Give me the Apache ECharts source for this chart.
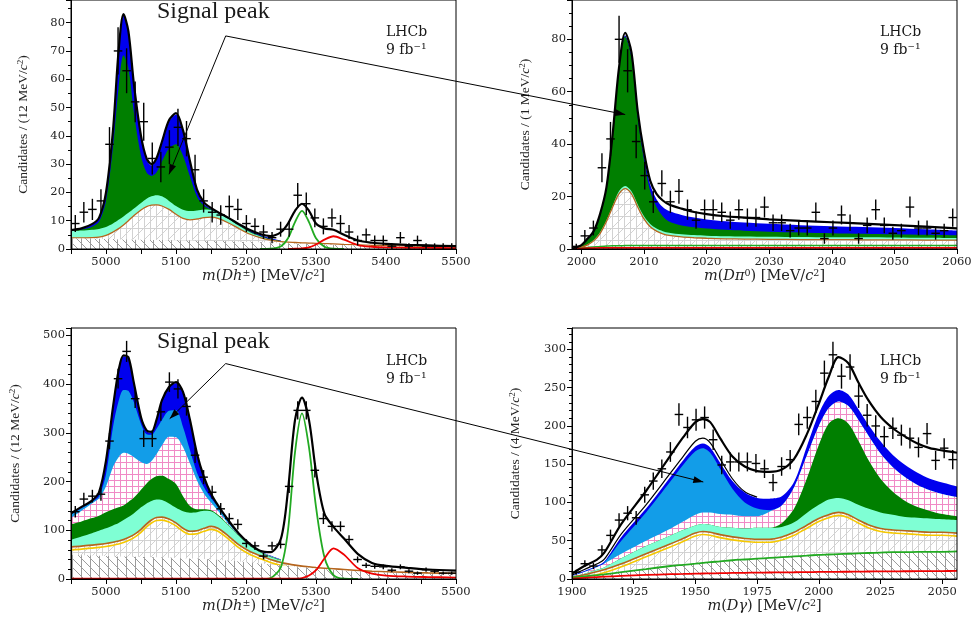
<!DOCTYPE html>
<html lang="en">
<head>
  <meta charset="utf-8">
  <title>Dh, D pi0 and D gamma mass fits</title>
  <style>
    html, body { margin: 0; padding: 0; background: #fff; }
    #container { width: 976px; height: 623px; }
  </style>
</head>
<body>
  <div id="container"></div>
  <script src="https://cdn.jsdelivr.net/npm/echarts@6/dist/echarts.min.js"></script>
  <script>
    // binning of the data points: centre = lo + (i + 0.5) * width
    const dhLo = 4950, dhBinW = 550 / 45;
    const dpiLo = 1998.5, dpiBinW = 61.5 / 45;
    const dgLo = 1900, dgBinW = 156 / 45;

    // candidates per bin
    const dh1Counts = [9, 13, 14, 17, 37, 70, 63, 52, 45, 32, 29, 36, 43, 39, 28, 17, 13, 12, 15, 14, 9, 8, 6, 4, 7, 7, 19, 16, 11, 8, 11, 9, 6, 3, 5, 3, 3, 1, 4, 1, 3, 1, 1, 1, 1];
    const dpiCounts = [1, 5, 8, 31, 42, 80, 68, 41, 28, 18, 25, 18, 22, 15, 11, 15, 15, 14, 11, 15, 12, 12, 16, 10, 10, 7, 8, 8, 14, 4, 8, 13, 10, 4, 9, 15, 9, 6, 7, 16, 8, 8, 6, 7, 12];
    const dh3Counts = [138, 164, 170, 174, 283, 411, 467, 370, 288, 288, 343, 404, 390, 354, 254, 209, 178, 144, 124, 112, 73, 68, 47, 68, 71, 190, 346, 346, 223, 124, 108, 108, 81, 40, 28, 26, 25, 18, 25, 16, 12, 19, 16, 12, 12];
    const dgCounts = [9, 20, 17, 38, 57, 77, 86, 80, 110, 128, 144, 166, 215, 198, 208, 211, 182, 149, 153, 153, 153, 151, 144, 126, 147, 156, 202, 211, 232, 269, 293, 265, 277, 239, 214, 200, 186, 197, 188, 184, 172, 190, 155, 171, 156];

    // fit curves, m(Dh) panels (upper edge of each coloured band)
    const xsDh = [4950, 4965, 4980, 4990, 5000, 5010, 5018, 5025, 5032, 5040, 5050, 5058, 5065, 5072, 5080, 5090, 5100, 5110, 5120, 5130, 5140, 5150, 5160, 5175, 5190, 5205, 5220, 5235, 5250, 5260, 5270, 5280, 5290, 5300, 5312, 5325, 5340, 5360, 5380, 5400, 5430, 5460, 5500];

    const dh1Total = [6.7, 7.3, 8.8, 11, 20, 42, 70, 83, 77, 58, 40, 32, 30, 32, 38, 45.5, 48, 42, 31, 21, 16.5, 14.5, 13, 11, 8.8, 6.8, 5.3, 4.6, 6, 9, 13.5, 16, 13.5, 9, 7.3, 6.8, 5, 3, 2.2, 1.8, 1.45, 1.25, 1.0];
    const dh1Blue = [6.6, 7.2, 8.6, 10.7, 19.7, 41.5, 69.5, 82.5, 76.5, 57.5, 39.5, 31.5, 29.5, 31.5, 37.5, 45, 47.5, 41.5, 30.5, 20.5, 16, 14.2, 12.9, 10.8, 8.6, 6.6, 5, 3.8, 3];
    const dh1Sig = [6.5, 6.9, 7.9, 9.6, 17, 36, 57, 68.5, 64, 48, 33, 27, 25.8, 27, 31, 35.5, 37, 33, 25.5, 18.5, 15.3, 14, 12.9, 10.8, 8.4, 6.3, 4.7, 3.5, 2.8];
    const dh1Aqua = [6.3, 6.5, 6.8, 7.1, 7.8, 9, 10.3, 11.5, 12.8, 14.3, 16.3, 17.8, 18.6, 19, 18.6, 17, 15.2, 13.9, 13.4, 13.6, 14, 13.8, 12.8, 10.6, 8.2, 6, 4.5, 3.3, 2.7];
    const dh1Part = [3.9, 3.9, 4.0, 4.2, 4.8, 6.0, 7.2, 8.5, 10, 11.8, 13.8, 15, 15.5, 15.6, 15.2, 14, 12.3, 10.8, 10.3, 10.6, 11.1, 11.3, 10.8, 9.2, 7.2, 5.3, 4.0, 3.1, 2.6, 2.4, 2.3, 2.2, 2.1, 2.0, 1.9, 1.8, 1.6, 1.45, 1.3, 1.2, 1.0, 0.9, 0.7];
    const dh1Comb = [3.7, 3.7, 3.6, 3.6, 3.5, 3.5, 3.4, 3.4, 3.4, 3.3, 3.3, 3.3, 3.2, 3.2, 3.2, 3.1, 3.1, 3.0, 3.0, 2.9, 2.9, 2.8, 2.8, 2.7, 2.6, 2.5, 2.4, 2.2, 2.0, 1.9, 1.8, 1.8, 1.7, 1.6, 1.5, 1.4, 1.3, 1.2, 1.1, 1.0, 0.9, 0.8, 0.6];
    const dh1BPi = [null, null, null, null, null, null, null, null, null, null, null, null, null, null, null, null, null, null, null, null, null, null, null, null, null, null, 0, 0.1, 1.0, 3.8, 9.5, 13.5, 9.5, 3.8, 0.8, 0.1, 0, null, null, null, null, null, null];
    const dh1Red = [null, null, null, null, null, null, null, null, null, null, null, null, null, null, null, null, null, null, null, null, null, null, null, null, null, null, null, null, null, 0, 0.1, 0.2, 0.6, 1.6, 3.3, 4.5, 3.3, 1.4, 0.8, 0.55, 0.45, 0.38, 0.3];

    const dh3Total = [135, 148, 161, 178, 243, 353, 428, 459, 455, 401, 332, 305, 302, 326, 367, 394, 404, 384, 326, 257, 209, 175, 151, 120, 93, 72.5, 58, 55, 83, 182, 326, 372, 326, 220, 134, 107, 83, 51, 33, 27, 23, 19.5, 17];
    const dh3Blue = [133, 146, 159, 176, 241, 351, 426, 457, 453, 399, 330, 303, 300, 324, 365, 392, 402, 382, 324, 255, 207, 173, 149, 118, 91, 71, 57, 48, 40];
    const dh3LBlue = [132, 145, 158, 170, 215, 312, 365, 388, 386, 362, 318, 297, 296, 308, 326, 345, 346, 312, 264, 218, 188, 166, 148, 117, 90.5, 70.5, 57, 47, 39.5];
    const dh3Pink = [125, 140, 155, 165, 190, 230, 250, 259, 257, 250, 240, 236, 242, 256, 274, 292, 291, 271, 237, 202, 175, 157, 140, 113, 90, 70, 56.5, 46.5, 39];
    const dh3Sig = [112, 118, 125, 130, 137, 143, 147, 151, 158, 167, 183, 196, 205, 211, 212, 205, 195, 170, 150, 143, 143, 141, 132, 111, 89, 69, 56, 46, 39];
    const dh3Aqua = [80, 87, 94, 99, 104, 110, 115, 121, 127, 135, 147, 155, 160, 163, 162, 155, 146, 139, 136, 137, 140, 139, 130, 110, 88, 68, 55, 45, 38];
    const dh3Part = [66, 67.5, 69.5, 71, 73, 75.5, 78, 81, 85, 91, 102, 113, 121, 126, 127, 123, 115, 104, 98, 99, 104, 108, 104, 88, 70, 57, 48, 40, 34, 31, 28.5, 26.5, 25, 23.5, 22, 21, 19.5, 17.5, 16, 15, 13.5, 12.5, 11.5];
    const dh3Comb = [49, 48.5, 48, 47.5, 47, 46.5, 46, 46, 45.5, 45.5, 45, 45, 44.5, 44.5, 44, 43.5, 43, 42.5, 42, 41.5, 41, 40, 39, 37.5, 36, 34, 32, 30, 28, 26.5, 25, 23.5, 22.5, 21, 20, 18.5, 17, 15.5, 14, 13, 11.5, 10.5, 9.5];
    const dh3BPi = [null, null, null, null, null, null, null, null, null, null, null, null, null, null, null, null, null, null, null, null, null, null, null, null, null, null, 0, 2, 25, 100, 260, 340, 270, 148, 45, 8, 0.5, 0, null, null, null, null, null];
    const dh3Red = [0.8, 0.8, 0.8, 0.8, 0.8, 0.8, 0.8, 0.8, 0.8, 0.8, 0.8, 0.8, 0.8, 0.8, 0.8, 0.8, 0.8, 0.8, 0.8, 0.8, 0.8, 0.8, 0.8, 0.8, 0.8, 0.8, 0.8, 0.8, 0.8, 0.8, 0.8, 2, 7, 18, 42, 63, 50, 22, 11, 7, 5, 4, 3];

    // fit curves, m(D pi0) panel
    const xsDpi = [1998.5, 2000, 2001, 2002, 2003, 2004, 2005, 2006, 2007, 2008, 2009, 2010, 2011, 2012, 2013, 2014, 2016, 2018, 2020, 2023, 2026, 2030, 2035, 2040, 2045, 2050, 2055, 2060];
    const dpiTotal = [0.2, 1.5, 4, 7, 13.5, 23.5, 44, 69, 82.5, 75, 52.5, 37, 26, 21, 18.5, 17, 15.4, 14.1, 13.3, 12.5, 12, 11.3, 10.7, 10.2, 9.7, 9.1, 8.5, 7.9];
    const dpiBlue = [0.2, 1.4, 3.8, 6.8, 13, 23, 43, 68, 81.5, 74, 51.5, 36, 24.5, 19, 16, 14.5, 13, 12, 11.3, 10.6, 10.1, 9.6, 9.1, 8.7, 8.4, 8, 7.5, 7];
    const dpiSig = [0.2, 1.3, 3.5, 6.5, 12.5, 22.5, 42.5, 67.5, 81, 73, 50, 34, 22, 16, 12.5, 10.5, 9, 8.3, 7.8, 7.3, 7, 6.6, 6.3, 6, 5.8, 5.6, 5.4, 5.2];
    const dpiAqua = [0.15, 0.8, 1.8, 3.5, 6.5, 11, 16.5, 22, 24, 22, 17, 12.5, 9.5, 7.8, 6.8, 6.2, 5.6, 5.3, 5.1, 4.9, 4.8, 4.7, 4.6, 4.5, 4.5, 4.4, 4.3, 4.2];
    const dpiPart = [0.1, 0.7, 1.6, 3.2, 6, 10.5, 16, 21, 23, 21, 16, 11.5, 8.5, 6.8, 5.8, 5.2, 4.6, 4.3, 4.1, 3.9, 3.8, 3.7, 3.6, 3.6, 3.5, 3.5, 3.4, 3.4];
    const dpiComb = [0.1, 0.3, 0.6, 0.8, 1.0, 1.1, 1.2, 1.2, 1.3, 1.3, 1.3, 1.3, 1.3, 1.3, 1.3, 1.3, 1.3, 1.3, 1.3, 1.3, 1.3, 1.3, 1.3, 1.3, 1.3, 1.3, 1.3, 1.3];
    const dpiRed = [0.05, 0.2, 0.3, 0.35, 0.4, 0.4, 0.4, 0.4, 0.45, 0.45, 0.45, 0.45, 0.45, 0.45, 0.45, 0.45, 0.45, 0.45, 0.45, 0.45, 0.45, 0.45, 0.45, 0.45, 0.45, 0.45, 0.45, 0.45];

    // fit curves, m(D gamma) panel
    const xsDg = [1900, 1905, 1910, 1913, 1920, 1930, 1940, 1945, 1950, 1953, 1956, 1960, 1965, 1970, 1975, 1980, 1985, 1990, 1995, 2000, 2004, 2008, 2012, 2016, 2020, 2025, 2030, 2035, 2040, 2045, 2050, 2056];
    const dgTotal = [7, 17, 25, 34, 72, 115, 162, 185, 205, 209, 205, 184, 160, 147, 141, 140, 143, 157, 188, 229, 264, 290, 282, 257, 234, 212, 197, 186, 177, 171, 168, 165];
    const dgThin = [5, 12.5, 19.5, 25.5, 59, 97, 139, 160, 180, 184, 178, 157, 131, 114, 107];
    const dgBlue = [4.5, 10.5, 17, 22.5, 55, 92, 134, 155, 173, 177, 172, 152, 128, 113, 106, 105, 108, 127, 172, 216, 239, 247, 241, 222, 202, 180, 162, 149, 139, 131, 126, 121];
    const dgLBlue = [4, 9.5, 16, 21, 50, 87, 128, 149, 167, 171, 165, 144, 118, 100, 92, 90, 96, 120, 160, 200, 223, 232, 226, 208, 188, 164, 146, 133, 123, 116, 111, 107];
    const dgPink = [3.5, 9, 15.5, 20, 33, 50, 66, 75, 84, 87, 87, 85, 84, 82, 82, 88, 96, 120, 160, 200, 223, 232, 226, 208, 188, 164, 146, 133, 123, 116, 111, 107];
    const dgDst = [3, 7, 12, 15, 27, 43, 57, 64, 70, 72, 71, 68, 67, 66, 67, 67, 73, 92, 130, 175, 203, 210, 203, 181, 156, 131, 114, 102, 94, 89, 85, 82];
    const dgAqua = [3, 7, 12, 15, 27, 43, 57, 64, 70, 72, 71, 68, 67, 66, 67, 67, 68, 74, 86, 97, 104, 106, 103, 97, 92, 87, 84, 81, 80, 79, 78, 77];
    const dgPart = [2.5, 5.5, 9.5, 12, 20, 33, 46, 53, 60, 62, 61, 58, 55, 53, 52, 52, 55, 61, 70, 79, 84, 87, 84, 77, 71, 66, 64, 63, 62, 61, 61, 60];
    const dgComb = [2, 3.5, 5, 6, 9, 13, 17, 18.5, 20, 21, 22, 23, 24.5, 25.5, 26.5, 27.5, 28.5, 29.5, 30.5, 31.5, 32, 32.5, 33, 33.5, 34, 34.5, 35, 35, 35.5, 35.5, 35.5, 36];
    const dgRed = [0.5, 1.5, 2.5, 3, 4, 5.3, 6.3, 6.6, 7, 7.2, 7.3, 7.6, 7.9, 8.1, 8.3, 8.5, 8.7, 8.8, 9, 9.2, 9.3, 9.4, 9.5, 9.6, 9.8, 9.9, 10, 10.1, 10.2, 10.3, 10.4, 10.5];

    // where the "Signal peak" arrows start and end (data coordinates)
    const noteTop = { apex: [5171, 75.3], tipA: [5090, 26.4], tipB: [2007.0, 51.3] };
    const noteBottom = { apex: [5171, 442], tipA: [5091, 329], tipB: [1953.2, 126.8] };

    // hatch fills
    function hatch(size, draw) {
      const c = document.createElement('canvas');
      c.width = size; c.height = size;
      const g = c.getContext('2d');
      g.fillStyle = '#fff';
      g.fillRect(0, 0, size, size);
      draw(g, size);
      return { image: c, repeat: 'repeat' };
    }
    const combFill = hatch(9, function (g, s) {
      g.strokeStyle = '#9c9c9c'; g.lineWidth = 1;
      g.beginPath();
      g.moveTo(0.5, 0); g.lineTo(0.5, s);
      g.moveTo(-1, -1); g.lineTo(s + 1, s + 1);
      g.stroke();
    });
    const partFill = hatch(12, function (g, s) {
      g.strokeStyle = '#d2d2d2'; g.lineWidth = 1;
      g.beginPath();
      g.moveTo(0.5, 0); g.lineTo(0.5, s);
      g.moveTo(6.5, 0); g.lineTo(6.5, s);
      g.moveTo(0, 0.5); g.lineTo(s, 0.5);
      g.moveTo(-1, s + 1); g.lineTo(s + 1, -1);
      g.stroke();
    });
    const pinkFill = hatch(6, function (g, s) {
      g.strokeStyle = '#f08ac6'; g.lineWidth = 1;
      g.beginPath();
      g.moveTo(0.5, 0); g.lineTo(0.5, s);
      g.moveTo(0, 0.5); g.lineTo(s, 0.5);
      g.stroke();
    });

    const BLUE = '#0000ee', LBLUE = '#129de8', GREEN = '#007f00', AQUA = '#7fffd4';
    const BROWN = '#b5651d', YELLOW = '#f5c800', LGREEN = '#22aa22', RED = '#ee0000';

    function pairs(xs, ys) {
      return ys.map(function (y, i) { return [xs[i], y === null ? '-' : y]; });
    }
    function band(g, xs, ys, fill, z, line) {
      return {
        type: 'line', xAxisIndex: g, yAxisIndex: g, data: pairs(xs, ys), z: z,
        smooth: 0.3, symbol: 'none', silent: true,
        lineStyle: line || { width: 0, opacity: 0 },
        areaStyle: { color: fill, opacity: 1 }
      };
    }
    function curve(g, xs, ys, style, z) {
      return {
        type: 'line', xAxisIndex: g, yAxisIndex: g, data: pairs(xs, ys), z: z,
        smooth: 0.3, symbol: 'none', silent: true, lineStyle: style
      };
    }
    function points(g, lo, w, counts) {
      return {
        type: 'custom', xAxisIndex: g, yAxisIndex: g, z: 30, silent: true,
        data: counts.map(function (n, i) { return [lo + (i + 0.5) * w, n]; }),
        renderItem: function (params, api) {
          const x = api.value(0), n = api.value(1), e = Math.sqrt(n);
          const a = api.coord([x - w / 2, n]), b = api.coord([x + w / 2, n]);
          const t = api.coord([x, n + e]), u = api.coord([x, n - e]);
          const st = { stroke: '#000', lineWidth: 1.4 };
          return {
            type: 'group', children: [
              { type: 'line', shape: { x1: a[0], y1: a[1], x2: b[0], y2: b[1] }, style: st },
              { type: 'line', shape: { x1: t[0], y1: t[1], x2: u[0], y2: u[1] }, style: st }
            ]
          };
        }
      };
    }

    const totalStyle = { color: '#000', width: 2.2 };
    const brownOnYellow = { color: BROWN, width: 1.6, shadowColor: YELLOW, shadowBlur: 0, shadowOffsetY: 3 };

    const series = [
      // m(Dh), top
      band(0, xsDh, dh1Blue, BLUE, 2),
      band(0, xsDh, dh1Sig, GREEN, 3),
      band(0, xsDh, dh1Aqua, AQUA, 4),
      band(0, xsDh, dh1Part, partFill, 5, { color: BROWN, width: 1.3 }),
      band(0, xsDh, dh1Comb, combFill, 6),
      curve(0, xsDh, dh1BPi, { color: LGREEN, width: 1.8 }, 7),
      curve(0, xsDh, dh1Red, { color: RED, width: 1.8 }, 7),
      curve(0, xsDh, dh1Total, totalStyle, 8),
      points(0, dhLo, dhBinW, dh1Counts),
      // m(D pi0)
      band(1, xsDpi, dpiBlue, BLUE, 2),
      band(1, xsDpi, dpiSig, GREEN, 3),
      band(1, xsDpi, dpiAqua, AQUA, 4),
      band(1, xsDpi, dpiPart, partFill, 5, { color: BROWN, width: 1.3 }),
      band(1, xsDpi, dpiComb, combFill, 6, { color: LGREEN, width: 1.5 }),
      curve(1, xsDpi, dpiRed, { color: RED, width: 1.8 }, 7),
      curve(1, xsDpi, dpiTotal, totalStyle, 8),
      points(1, dpiLo, dpiBinW, dpiCounts),
      // m(Dh), bottom
      band(2, xsDh, dh3Blue, BLUE, 2),
      band(2, xsDh, dh3LBlue, LBLUE, 3),
      band(2, xsDh, dh3Pink, pinkFill, 4),
      band(2, xsDh, dh3Sig, GREEN, 5),
      band(2, xsDh, dh3Aqua, AQUA, 6),
      band(2, xsDh, dh3Part, partFill, 7),
      curve(2, xsDh, dh3Part, brownOnYellow, 8),
      band(2, xsDh, dh3Comb, combFill, 9),
      curve(2, xsDh, dh3BPi, { color: LGREEN, width: 1.8 }, 10),
      curve(2, xsDh, dh3Red, { color: RED, width: 1.8 }, 10),
      curve(2, xsDh, dh3Total, totalStyle, 11),
      points(2, dhLo, dhBinW, dh3Counts),
      // m(D gamma)
      curve(3, xsDg, dgThin, { color: '#000', width: 1.2 }, 2),
      band(3, xsDg, dgBlue, BLUE, 3),
      band(3, xsDg, dgLBlue, LBLUE, 4),
      band(3, xsDg, dgPink, pinkFill, 5),
      band(3, xsDg, dgDst, GREEN, 6),
      band(3, xsDg, dgAqua, AQUA, 7),
      band(3, xsDg, dgPart, partFill, 8),
      curve(3, xsDg, dgPart, brownOnYellow, 9),
      band(3, xsDg, dgComb, combFill, 10, { color: LGREEN, width: 1.8 }),
      curve(3, xsDg, dgRed, { color: RED, width: 1.8 }, 11),
      curve(3, xsDg, dgTotal, totalStyle, 12),
      points(3, dgLo, dgBinW, dgCounts)
    ];

    const serif = 'DejaVu Serif';
    const tickLine = { color: '#000', width: 1 };
    const plain = function (v) { return String(v); };
    const labelStyle = { color: '#222', fontFamily: serif, fontSize: 11.5, formatter: plain };
    const xRich = {
      i: { fontFamily: serif, fontStyle: 'italic', fontSize: 14.5, color: '#222' },
      s: { fontFamily: serif, fontSize: 9.5, color: '#222', verticalAlign: 'top' },
      n: { fontFamily: serif, fontSize: 14.5, color: '#222' }
    };
    const yRich = {
      i: { fontFamily: 'Liberation Serif', fontStyle: 'italic', fontSize: 13.5, color: '#222' },
      s: { fontFamily: 'Liberation Serif', fontSize: 9, color: '#222', verticalAlign: 'top' },
      n: { fontFamily: 'Liberation Serif', fontSize: 13.5, color: '#222' }
    };

    function xAxis(g, min, max, name, extra) {
      return Object.assign({
        type: 'value', gridIndex: g, min: min, max: max, z: 20,
        axisLine: { show: true, onZero: false, lineStyle: tickLine },
        axisTick: { show: true, length: 5, lineStyle: tickLine },
        splitLine: { show: false },
        axisLabel: Object.assign({ margin: 7 }, labelStyle),
        name: name, nameLocation: 'middle', nameGap: 19,
        nameTextStyle: { fontFamily: serif, fontSize: 14.5, color: '#222', rich: xRich }
      }, extra);
    }
    function yAxis(g, max, interval, minor, name, gap) {
      return {
        type: 'value', gridIndex: g, min: 0, max: max, interval: interval, z: 20,
        axisLine: { show: true, onZero: false, lineStyle: tickLine },
        axisTick: { show: true, length: 5, lineStyle: tickLine },
        minorTick: { show: true, splitNumber: minor, length: 3, lineStyle: tickLine },
        splitLine: { show: false },
        axisLabel: Object.assign({ margin: 6, showMaxLabel: false }, labelStyle),
        name: name, nameLocation: 'middle', nameRotate: 90, nameGap: gap,
        nameTextStyle: { fontFamily: 'Liberation Serif', fontSize: 13.5, color: '#222', rich: yRich }
      };
    }

    const dhName = '{i|m}{n|(}{i|Dh}{s|±}{n|) [MeV/}{i|c}{s|2}{n|]}';
    const hundreds = function (v) { return v % 100 === 0 ? String(v) : ''; };
    const dpiTicks = [2000, 2010, 2020, 2030, 2040, 2050, 2060];
    const gridBox = { show: true, borderColor: '#000', borderWidth: 1, backgroundColor: 'transparent', z: 20 };

    const option = {
      animation: false,
      grid: [
        Object.assign({ left: 71, right: 520, top: -3, bottom: 374 }, gridBox),
        Object.assign({ left: 572, right: 19, top: -3, bottom: 374 }, gridBox),
        Object.assign({ left: 71, right: 520, top: 328, bottom: 44 }, gridBox),
        Object.assign({ left: 572, right: 19, top: 328, bottom: 44 }, gridBox)
      ],
      xAxis: [
        xAxis(0, 4950, 5500, dhName, { interval: 50, axisLabel: Object.assign({}, labelStyle, { margin: 7, formatter: hundreds }) }),
        xAxis(1, 1998.5, 2060, '{i|m}{n|(}{i|Dπ}{s|0}{n|) [MeV/}{i|c}{s|2}{n|]}', {
          axisTick: { show: true, length: 5, lineStyle: tickLine, customValues: dpiTicks },
          axisLabel: Object.assign({}, labelStyle, { margin: 7, customValues: dpiTicks })
        }),
        xAxis(2, 4950, 5500, dhName, { interval: 50, axisLabel: Object.assign({}, labelStyle, { margin: 7, formatter: hundreds }) }),
        xAxis(3, 1900, 2056, '{i|m}{n|(}{i|Dγ}{n|) [MeV/}{i|c}{s|2}{n|]}', { interval: 25, axisLabel: Object.assign({}, labelStyle, { margin: 7, showMaxLabel: false }) })
      ],
      yAxis: [
        yAxis(0, 88, 10, 2, '{n|Candidates / (12 MeV/}{i|c}{s|2}{n|)}', 41),
        yAxis(1, 95, 20, 4, '{n|Candidates / (1 MeV/}{i|c}{s|2}{n|)}', 40),
        yAxis(2, 515, 100, 5, '{n|Candidates / (12 MeV/}{i|c}{s|2}{n|)}', 49),
        yAxis(3, 328, 50, 5, '{n|Candidates / (4 MeV/}{i|c}{s|2}{n|)}', 50)
      ],
      series: series
    };

    const chart = echarts.init(document.getElementById('container'), null, { renderer: 'canvas' });
    chart.setOption(option);

    // text labels and the "Signal peak" arrows
    function px(g, v) { return chart.convertToPixel({ gridIndex: g }, v); }
    function head(from, to) {
      const dx = to[0] - from[0], dy = to[1] - from[1], L = Math.hypot(dx, dy);
      const ux = dx / L, uy = dy / L, len = 10, hw = 3.5;
      const bx = to[0] - ux * len, by = to[1] - uy * len;
      return {
        type: 'polygon', z: 100, silent: true,
        shape: { points: [to, [bx - uy * hw, by + ux * hw], [bx + uy * hw, by - ux * hw]] },
        style: { fill: '#000' }
      };
    }
    function note(n, gA, gB) {
      const apex = px(gA, n.apex), a = px(gA, n.tipA), b = px(gB, n.tipB);
      return [
        { type: 'polyline', z: 100, silent: true, shape: { points: [a, apex, b] }, style: { stroke: '#000', lineWidth: 1, fill: null } },
        head(apex, a),
        head(apex, b)
      ];
    }
    function txt(x, y, s, family, size) {
      return {
        type: 'text', x: x, y: y, z: 100, silent: true,
        style: { text: s, fontFamily: family, fontSize: size, fill: '#1a1a1a', verticalAlign: 'top' }
      };
    }
    const graphics = [].concat(
      note(noteTop, 0, 1),
      note(noteBottom, 2, 3),
      [
        txt(157, 0, 'Signal peak', 'Liberation Serif', 24),
        txt(157, 330, 'Signal peak', 'Liberation Serif', 24),
        txt(386, 25, 'LHCb', serif, 14), txt(386, 43, '9 fb⁻¹', serif, 14),
        txt(880, 25, 'LHCb', serif, 14), txt(880, 43, '9 fb⁻¹', serif, 14),
        txt(386, 354, 'LHCb', serif, 14), txt(386, 372, '9 fb⁻¹', serif, 14),
        txt(880, 354, 'LHCb', serif, 14), txt(880, 372, '9 fb⁻¹', serif, 14)
      ]
    );
    chart.setOption({ graphic: graphics });
  </script>
</body>
</html>
